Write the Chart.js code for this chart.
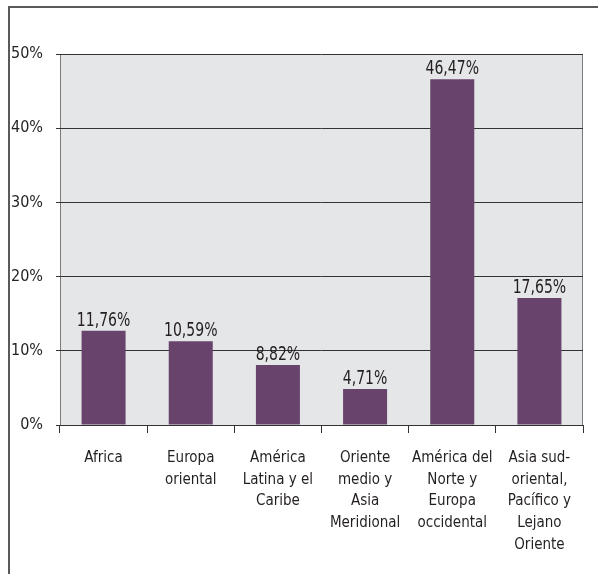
<!DOCTYPE html>
<html>
<head>
<meta charset="utf-8">
<script src="https://cdn.jsdelivr.net/npm/chart.js@4/dist/chart.umd.min.js"></script>
<style>
  html, body { margin: 0; padding: 0; background: #fff; }
  #wrap { width: 598px; height: 574px; }
</style>
</head>
<body>
<div id="wrap"><canvas id="regionChart" width="598" height="574"></canvas></div>
<script>
/* ---- Data ---- */
const categories = [
  ['Africa'],
  ['Europa', 'oriental'],
  ['América', 'Latina y el', 'Caribe'],
  ['Oriente', 'medio y', 'Asia', 'Meridional'],
  ['América del', 'Norte y', 'Europa', 'occidental'],
  ['Asia sud-', 'oriental,', 'Pacífico y', 'Lejano', 'Oriente']
];
// bar heights as drawn in the picture (%)
const barValues = [12.7, 11.3, 8.1, 4.85, 46.6, 17.1];
// value labels printed above the bars
const valueLabels = ['11,76%', '10,59%', '8,82%', '4,71%', '46,47%', '17,65%'];
const yTicks = [0, 10, 20, 30, 40, 50];

const COLORS = {
  bar: '#68436C',
  plotBg: '#E5E6E8',
  grid: '#333333',
  plotEdge: '#7A7A7A',
  frame: '#5A5A5A',
  text: '#231F20'
};
const FONT = '"DejaVu Sans Condensed", "Liberation Sans Narrow", sans-serif';

// plot background + side edges, outer frame
const backdrop = {
  id: 'backdrop',
  beforeDraw(chart) {
    const { ctx, chartArea: { left, right, top, bottom } } = chart;
    ctx.save();
    ctx.fillStyle = COLORS.plotBg;
    ctx.fillRect(left, top, right - left, bottom - top);
    ctx.strokeStyle = COLORS.plotEdge;
    ctx.lineWidth = 1;
    ctx.beginPath();
    ctx.moveTo(left + 0.5, top); ctx.lineTo(left + 0.5, bottom);
    ctx.moveTo(right - 0.5, top); ctx.lineTo(right - 0.5, bottom);
    ctx.stroke();
    // outer frame: left and top only
    ctx.strokeStyle = COLORS.frame;
    ctx.lineWidth = 2;
    ctx.beginPath();
    ctx.moveTo(9, chart.height); ctx.lineTo(9, 7); ctx.lineTo(chart.width, 7);
    ctx.stroke();
    ctx.restore();
  }
};

// value labels above bars (squeezed sideways like the condensed original)
const valueText = {
  id: 'valueText',
  afterDatasetsDraw(chart) {
    const { ctx } = chart;
    const meta = chart.getDatasetMeta(0);
    const sx = 0.78;
    ctx.save();
    ctx.font = '20px ' + FONT;
    ctx.fillStyle = COLORS.text;
    ctx.textAlign = 'center';
    ctx.textBaseline = 'alphabetic';
    meta.data.forEach((bar, i) => {
      ctx.save();
      ctx.translate(bar.x, bar.y - 5);
      ctx.scale(sx, 1);
      ctx.fillText(valueLabels[i], 0, 0);
      ctx.restore();
    });
    ctx.restore();
  }
};

new Chart(document.getElementById('regionChart'), {
  type: 'bar',
  data: {
    labels: categories,
    datasets: [{
      data: barValues,
      backgroundColor: COLORS.bar,
      borderWidth: 0,
      categoryPercentage: 1,
      barPercentage: 0.505
    }]
  },
  options: {
    responsive: false,
    animation: false,
    events: [],
    layout: { padding: { left: 0, right: 15, top: 54, bottom: 0 } },
    plugins: { legend: { display: false }, tooltip: { enabled: false } },
    scales: {
      x: {
        offset: true,
        grid: {
          offset: true,
          drawOnChartArea: false,
          drawTicks: true,
          tickLength: 8,
          color: COLORS.grid
        },
        border: { display: true, color: COLORS.grid, width: 1 },
        ticks: {
          color: COLORS.text,
          font: { family: FONT, size: 15, lineHeight: 1.45 },
          padding: 14,
          maxRotation: 0,
          autoSkip: false
        },
        afterFit(scale) { scale.height = 149; }
      },
      y: {
        min: yTicks[0],
        max: yTicks[yTicks.length - 1],
        afterBuildTicks(scale) { scale.ticks = yTicks.map(v => ({ value: v })); },
        grid: { color: COLORS.grid, tickLength: 4, drawTicks: true },
        border: { display: false },
        ticks: {
          color: COLORS.text,
          font: { family: FONT, size: 16 },
          padding: 13,
          callback: (v) => v + '%'
        },
        afterFit(scale) { scale.width = 60; }
      }
    }
  },
  plugins: [backdrop, valueText]
});
</script>
</body>
</html>
